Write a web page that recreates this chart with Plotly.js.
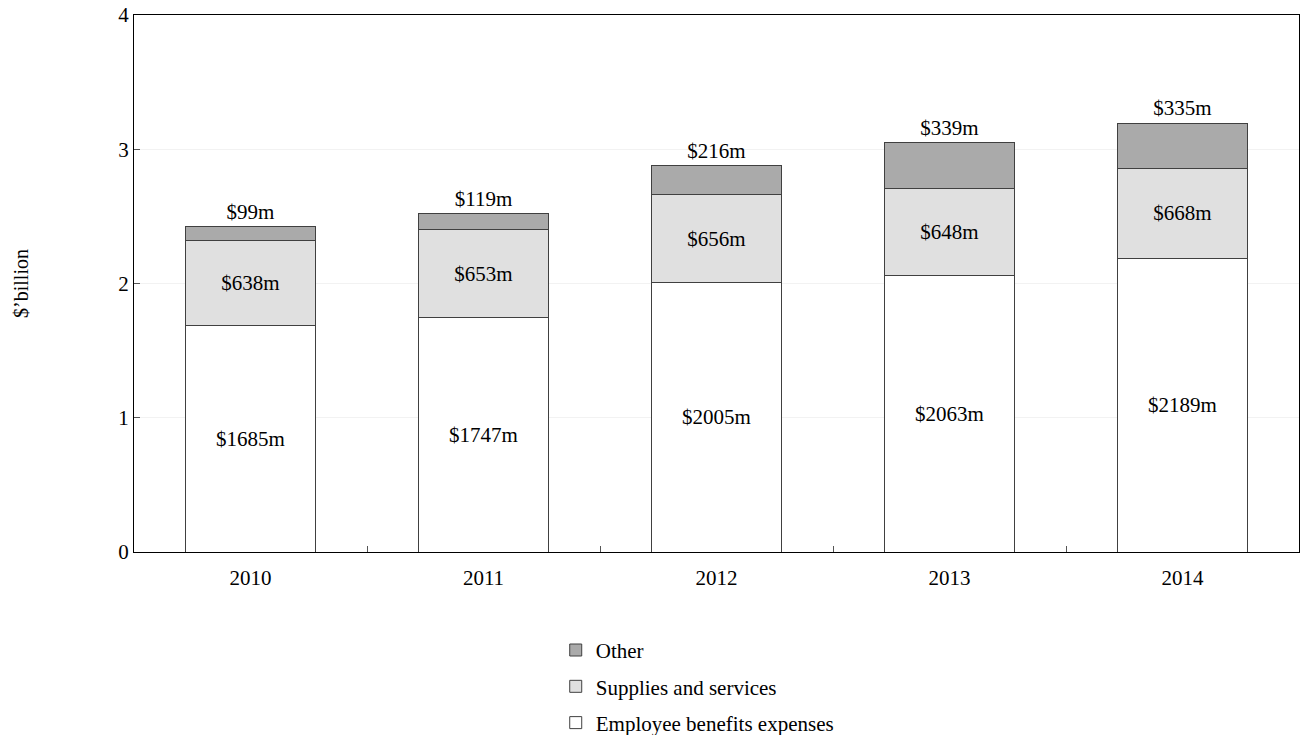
<!DOCTYPE html>
<html><head><meta charset="utf-8">
<script src="https://cdn.plot.ly/plotly-3.0.1.min.js"></script>
<style>html,body{margin:0;padding:0;background:#fff}#chart{width:1300px;height:735px}</style>
</head><body><div id="chart"></div>
<script>
const years = ["2010","2011","2012","2013","2014"];
const employee = [1685, 1747, 2005, 2063, 2189];
const supplies = [638, 653, 656, 648, 668];
const other = [99, 119, 216, 339, 335];

const toB = a => a.map(v => v / 1000);
const lab = a => a.map(v => "$" + v + "m");
const fam = "'Liberation Serif', 'Times New Roman', serif";
const font = {family: fam, size: 21, color: "#000"};
const tickFont = {family: fam, size: 21, color: "#000"};
const legFont = {family: fam, size: 21, color: "#000"};
const line = {color: "#404040", width: 1};

const traces = [
  {type: "bar", name: "Employee benefits expenses", legendgroup: "a", legendrank: 3, x: years, y: toB(employee), text: lab(employee),
   textposition: "inside", insidetextanchor: "middle", textfont: font,
   marker: {color: "#ffffff", line: line}, hoverinfo: "none"},
  {type: "bar", name: "Supplies and services", legendgroup: "b", legendrank: 2, x: years, y: toB(supplies), text: lab(supplies),
   textposition: "inside", insidetextanchor: "middle", textfont: font,
   marker: {color: "#e0e0e0", line: line}, hoverinfo: "none"},
  {type: "bar", name: "Other", legendgroup: "c", legendrank: 1, x: years, y: toB(other), text: lab(other),
   textposition: "outside", textfont: font, cliponaxis: false,
   marker: {color: "#aaaaaa", line: line}, hoverinfo: "none"}
];

const layout = {
  width: 1300, height: 735,
  margin: {l: 134, r: 1, t: 15, b: 183, autoexpand: false},
  barmode: "stack", bargap: 0.44,
  paper_bgcolor: "#fff", plot_bgcolor: "#fff",
  font: font,
  showlegend: true,
  legend: {orientation: "v", x: 0.362, xanchor: "left", y: -0.145, yanchor: "top",
           traceorder: "grouped", font: legFont, itemwidth: 30, tracegroupgap: 6},
  xaxis: {type: "category", showline: true, linecolor: "#000", linewidth: 1, mirror: true,
          ticks: "inside", ticklen: 6, tickcolor: "#555", tickson: "boundaries",
          tickfont: tickFont, ticklabelstandoff: 7, showgrid: false},
  yaxis: {range: [0, 4], dtick: 1, showline: true, linecolor: "#000", linewidth: 1, mirror: true,
          ticks: "inside", ticklen: 6, tickcolor: "#555", tickfont: tickFont,
          showgrid: true, gridcolor: "#f2f2f2", zeroline: false,
          title: {text: "$\u2019billion", font: {family: fam, size: 20, color: "#000"}, standoff: 84}}
};

Plotly.newPlot("chart", traces, layout, {displayModeBar: false, staticPlot: true});
</script></body></html>
